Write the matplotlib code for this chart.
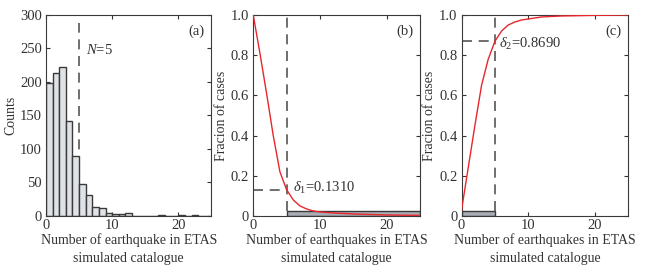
import numpy as np
import matplotlib.pyplot as plt
from matplotlib.patches import Rectangle

plt.rcParams['font.family'] = ['Liberation Serif', 'DejaVu Serif']
plt.rcParams['mathtext.fontset'] = 'custom'
plt.rcParams['mathtext.rm'] = 'Liberation Serif'
plt.rcParams['mathtext.it'] = 'Liberation Serif:italic'

# (a) histogram: counts per unit bin starting at 0
hist_counts = [199, 214, 222, 142, 90, 48, 31, 13, 12, 4, 3, 3, 4,
               0.5, 0.5, 0.5, 0.5, 1.5, 0.5, 0.5, 1, 0.5, 1, 0, 0]
hist_edges = np.arange(len(hist_counts))

# (b) fraction of cases with N >= x
frac_b_x = [0, 1, 2, 3, 4, 5, 6, 7, 8, 9, 10, 12, 15, 20, 25]
frac_b_y = [1.0, 0.81, 0.61, 0.40, 0.22, 0.131, 0.08, 0.05, 0.035, 0.025,
            0.02, 0.015, 0.01, 0.005, 0.003]

# (c) fraction of cases with N <= x
frac_c_x = [0, 1, 2, 3, 4, 5, 6, 7, 8, 9, 10, 12, 15, 20, 25]
frac_c_y = [0.03, 0.24, 0.45, 0.65, 0.78, 0.869, 0.92, 0.95, 0.965, 0.975,
            0.98, 0.99, 0.995, 0.998, 1.0]

N0 = 5
delta1 = 0.1310
delta2 = 0.8690

edge = '#3a3a3a'
dash_col = '#555555'
red = '#e8262b'
txt = '#333333'

fig = plt.figure(figsize=(6.51, 2.72), dpi=100)
axa = fig.add_axes([0.0707, 0.206, 0.254, 0.739])
axb = fig.add_axes([0.389, 0.206, 0.256, 0.739])
axc = fig.add_axes([0.709, 0.206, 0.256, 0.739])

for ax in (axa, axb, axc):
    ax.set_xlim(0, 25)
    ax.set_xticks([0, 10, 20])
    ax.tick_params(direction='in', top=True, right=True, length=3,
                   labelsize=10.5, colors=txt)
    ax.tick_params(axis='x', pad=2)
    ax.tick_params(axis='y', pad=3)
    for s in ax.spines.values():
        s.set_color(edge)
    ax.set_xlabel('Number of earthquakes in ETAS\nsimulated catalogue',
                  fontsize=10, color=txt, linespacing=1.5, labelpad=1)

# panel (a)
axa.vlines(N0, 0, 288, colors=dash_col, linestyles=(0, (6, 4)), lw=1.2, zorder=1)
axa.bar(hist_edges, hist_counts, width=1, align='edge', color='#dfe2e6',
        edgecolor=edge, lw=1.0, zorder=2)
axa.set_ylim(0, 300)
axa.set_yticks(range(0, 301, 50))
axa.set_ylabel('Counts', fontsize=10, color=txt, labelpad=2)
axa.set_xlabel('Number of earthquake in ETAS\nsimulated catalogue',
               fontsize=10, color=txt, linespacing=1.5, labelpad=1)
axa.text(6.0, 248, '$N$=5', fontsize=10.5, color=txt, va='center')
axa.text(24, 285, '(a)', fontsize=10.5, color=txt, ha='right', va='top')

fmt = lambda v: '0' if v == 0 else f'{v:.1f}'
for ax in (axb, axc):
    ax.set_ylim(0, 1.0)
    ticks = [0, 0.2, 0.4, 0.6, 0.8, 1.0]
    ax.set_yticks(ticks)
    ax.set_yticklabels([fmt(t) for t in ticks])
    ax.set_ylabel('Fracion of cases', fontsize=10, color=txt, labelpad=2)

# panel (b)
axb.add_patch(Rectangle((N0, 0), 25 - N0, 0.025, facecolor='#a9adb5',
                        edgecolor=edge, lw=1.0, zorder=2))
axb.plot(frac_b_x, frac_b_y, color=red, lw=1.0, zorder=3)
axb.vlines(N0, 0.025, 1.0, colors=dash_col, linestyles=(0, (6, 4)), lw=1.2)
axb.hlines(delta1, 0, N0, colors=dash_col, linestyles=(0, (6, 4)), lw=1.2)
axb.text(6.0, delta1 + 0.01, r'$\delta_1$=0.1310', fontsize=10.5,
         color=txt, va='center')
axb.text(24, 0.95, '(b)', fontsize=10.5, color=txt, ha='right', va='top')

# panel (c)
axc.add_patch(Rectangle((0, 0), N0, 0.025, facecolor='#a9adb5',
                        edgecolor=edge, lw=1.0, zorder=2))
axc.plot(frac_c_x, frac_c_y, color=red, lw=1.0, zorder=3)
axc.vlines(N0, 0.025, 1.0, colors=dash_col, linestyles=(0, (6, 4)), lw=1.2)
axc.hlines(delta2, 0, N0, colors=dash_col, linestyles=(0, (6, 4)), lw=1.2)
axc.text(5.6, delta2 - 0.015, r'$\delta_2$=0.8690', fontsize=10.5,
         color=txt, va='center')
axc.text(24, 0.95, '(c)', fontsize=10.5, color=txt, ha='right', va='top')

fig.savefig('out.png', dpi=100)
